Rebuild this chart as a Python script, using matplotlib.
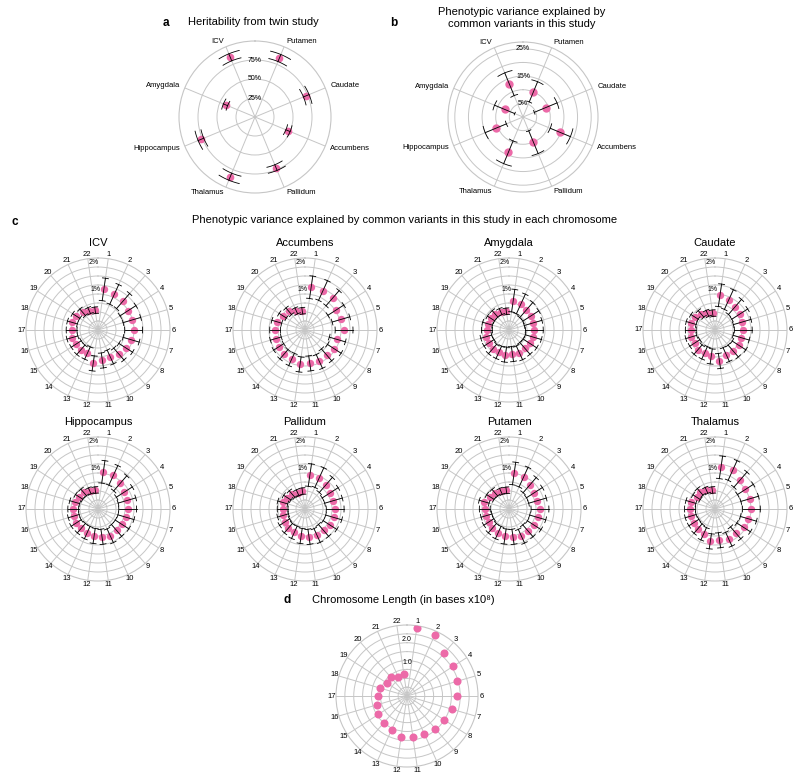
import numpy as np
import matplotlib.pyplot as plt

plt.rcParams['font.family'] = ['Liberation Sans', 'DejaVu Sans']

PINK = '#ec6aa8'
GRID = '#c6c6c6'
W, H = 800, 780

# ---- data ----
regions = ['ICV', 'Putamen', 'Caudate', 'Accumbens',
           'Pallidum', 'Thalamus', 'Hippocampus', 'Amygdala']
twin_h2 = [0.85, 0.84, 0.73, 0.47, 0.72, 0.85, 0.77, 0.42]
twin_err = [0.05, 0.05, 0.04, 0.03, 0.04, 0.05, 0.04, 0.03]
snp_h2 = [0.13, 0.10, 0.09, 0.148, 0.10, 0.14, 0.108, 0.073]
snp_err = [0.045, 0.04, 0.045, 0.04, 0.045, 0.045, 0.042, 0.04]

chroms = [str(i) for i in range(1, 23)]
icv_chr = [1.02, 0.95, 0.92, 0.82, 0.81, 0.82, 0.78, 0.72, 0.68, 0.60, 0.64,
           0.75, 0.44, 0.47, 0.46, 0.49, 0.48, 0.49, 0.46, 0.37, 0.29, 0.24]
accumbens_chr = [1.10, 1.11, 1.06, 0.86, 0.89, 0.95, 0.75, 0.79, 0.72, 0.78, 0.75,
                 0.79, 0.70, 0.69, 0.66, 0.63, 0.61, 0.59, 0.48, 0.42, 0.28, 0.22]
amygdala_chr = [0.60, 0.56, 0.48, 0.46, 0.43, 0.44, 0.44, 0.42, 0.40, 0.43, 0.40,
                0.42, 0.41, 0.43, 0.38, 0.38, 0.32, 0.33, 0.29, 0.29, 0.25, 0.20]
caudate_chr = [0.80, 0.74, 0.63, 0.59, 0.55, 0.55, 0.51, 0.56, 0.53, 0.50, 0.66,
               0.49, 0.43, 0.46, 0.39, 0.42, 0.40, 0.42, 0.40, 0.29, 0.18, 0.13]
hippocampus_chr = [0.89, 0.87, 0.76, 0.66, 0.62, 0.60, 0.58, 0.56, 0.55, 0.59, 0.54,
                   0.51, 0.46, 0.44, 0.46, 0.44, 0.42, 0.40, 0.33, 0.31, 0.24, 0.21]
pallidum_chr = [0.77, 0.78, 0.68, 0.61, 0.60, 0.62, 0.61, 0.60, 0.55, 0.58, 0.54,
                0.51, 0.45, 0.44, 0.40, 0.35, 0.33, 0.36, 0.28, 0.23, 0.16, 0.17]
putamen_chr = [0.83, 0.80, 0.67, 0.62, 0.60, 0.65, 0.61, 0.61, 0.57, 0.61, 0.54,
               0.53, 0.46, 0.44, 0.39, 0.37, 0.40, 0.46, 0.32, 0.30, 0.22, 0.20]
thalamus_chr = [1.06, 1.07, 0.94, 0.84, 0.84, 0.85, 0.79, 0.76, 0.67, 0.73, 0.67,
                0.71, 0.51, 0.46, 0.43, 0.44, 0.43, 0.43, 0.31, 0.34, 0.26, 0.21]
chr_se = [0.42, 0.40, 0.37, 0.35, 0.34, 0.33, 0.31, 0.30, 0.29, 0.28, 0.28,
          0.28, 0.25, 0.23, 0.22, 0.21, 0.20, 0.19, 0.16, 0.16, 0.12, 0.12]
chr_len = [2.49, 2.43, 1.98, 1.91, 1.81, 1.71, 1.59, 1.46, 1.41, 1.36, 1.35,
           1.34, 1.15, 1.07, 1.03, 0.90, 0.81, 0.78, 0.59, 0.63, 0.48, 0.51]

c_panels = [('ICV', icv_chr), ('Accumbens', accumbens_chr),
            ('Amygdala', amygdala_chr), ('Caudate', caudate_chr),
            ('Hippocampus', hippocampus_chr), ('Pallidum', pallidum_chr),
            ('Putamen', putamen_chr), ('Thalamus', thalamus_chr)]


def px_rect(cx, cy, r):
    return [(cx - r) / W, 1 - (cy + r) / H, 2 * r / W, 2 * r / H]


def ftext(x, y, s, **kw):
    fig.text(x / W, 1 - y / H, s, **kw)


def make_polar(cx, cy, r, thetas, rmin, rmax, rings):
    ax = fig.add_axes(px_rect(cx, cy, r), projection='polar')
    ax.set_theta_zero_location('N')
    ax.set_theta_direction(-1)
    ax.set_ylim(rmin, rmax)
    ax.set_xticks(thetas)
    ax.set_xticklabels([])
    ax.set_yticks(rings)
    ax.set_yticklabels([])
    ax.grid(True, color=GRID, lw=0.7)
    ax.spines['polar'].set_color(GRID)
    ax.spines['polar'].set_linewidth(0.8)
    ax.tick_params(length=0)
    ax.set_facecolor('none')
    return ax


def draw_err(ax, thetas, vals, errs, cap, fixed=None):
    for t, v, e in zip(thetas, vals, errs):
        ax.plot([t, t], [v - e, v + e], color='k', lw=0.6, zorder=4)
        for rr in (v - e, v + e):
            if fixed is not None:
                rmin, rmax, rpx = fixed
                dt = cap / ((rr - rmin) / (rmax - rmin) * rpx)
            else:
                dt = cap
            tt = np.linspace(t - dt, t + dt, 15)
            ax.plot(tt, np.full_like(tt, rr), color='k', lw=0.6, zorder=4)


fig = plt.figure(figsize=(8, 7.8), dpi=100)

# ---- panel a / b ----
reg_theta = np.deg2rad((-22.5 + 45 * np.arange(len(regions))) % 360)

for cx, R, vals, errs, rmax, rings, rlabels, ms in [
        (255, 76, twin_h2, twin_err, 1.0, [0.25, 0.5, 0.75],
         {0.25: '25%', 0.5: '50%', 0.75: '75%'}, 5.5),
        (523, 75, snp_h2, snp_err, 0.275, [0.05, 0.10, 0.15, 0.20, 0.25],
         {0.05: '5%', 0.15: '15%', 0.25: '25%'}, 6)]:
    ax = make_polar(cx, 117, R, reg_theta, 0, rmax, rings)
    ax.plot(reg_theta, vals, 'o', color=PINK, ms=ms, mec='none', zorder=3)
    draw_err(ax, reg_theta, vals, errs, 0.16)
    for rv, s in rlabels.items():
        ax.text(0, rv, s, ha='center', va='center', fontsize=5)
    for t, name in zip(reg_theta, regions):
        ha = 'left' if np.sin(t) > 0 else 'right'
        ax.text(t, rmax * 1.07, name, ha=ha, va='center', fontsize=5.5)
    ax.set_xlim(0, 2 * np.pi)

ftext(163, 23, 'a', fontsize=8.5, fontweight='bold', va='center')
ftext(253, 22, 'Heritability from twin study', fontsize=8, ha='center', va='center')
ftext(390, 23, 'b', fontsize=8.5, fontweight='bold', va='center')
ftext(522, 18, 'Phenotypic variance explained by\ncommon variants in this study',
      fontsize=8, ha='center', va='center', linespacing=1.2)

# ---- panel c ----
chr_theta = np.deg2rad((np.arange(22) + 0.5) * 360 / 22)
c_min, c_max, c_R = -0.5, 2.17, 72
c_rings = list(c_min + (c_max - c_min) * np.arange(1, 8) / 8)
c_xs = [98, 305, 509, 715]
c_ys = [330, 509]

ftext(12, 222, 'c', fontsize=8.5, fontweight='bold', va='center')
ftext(405, 220, 'Phenotypic variance explained by common variants in this study in each chromosome',
      fontsize=8, ha='center', va='center')

for i, (name, vals) in enumerate(c_panels):
    cx, cy = c_xs[i % 4], c_ys[i // 4]
    ax = make_polar(cx, cy, c_R, chr_theta, c_min, c_max, c_rings)
    ax.plot(chr_theta, vals, 'o', color=PINK, ms=5.3, mec='none', zorder=3)
    draw_err(ax, chr_theta, vals, chr_se, 3.0, fixed=(c_min, c_max, c_R))
    for rv, s in [(1.0, '1%'), (2.0, '2%')]:
        ax.text(-0.065, rv, s, ha='center', va='center', fontsize=5)
    for t, s in zip(chr_theta, chroms):
        ax.text(t, c_max + (c_max - c_min) * 0.055, s, ha='center', va='center', fontsize=5.5)
    ax.set_xlim(0, 2 * np.pi)
    ftext(cx, cy - 87, name, fontsize=8, ha='center', va='center')

# ---- panel d ----
d_min, d_max, d_R = -0.43, 2.6, 71
d_rings = list(d_min + (d_max - d_min) * np.arange(1, 8) / 8)
ax = make_polar(407, 696, d_R, chr_theta, d_min, d_max, d_rings)
ax.plot(chr_theta, chr_len, 'o', color=PINK, ms=5.8, mec='none', zorder=3)
for rv, s in [(1.0, '1.0'), (2.0, '2.0')]:
    ax.text(0, rv, s, ha='center', va='center', fontsize=5)
for t, s in zip(chr_theta, chroms):
    ax.text(t, d_max + (d_max - d_min) * 0.055, s, ha='center', va='center', fontsize=5.5)
ax.set_xlim(0, 2 * np.pi)
ftext(283, 600, 'd', fontsize=8.5, fontweight='bold', va='center')
ftext(403, 600, 'Chromosome Length (in bases x10\u2078)', fontsize=8, ha='center', va='center')

fig.savefig('out.png', dpi=100)
